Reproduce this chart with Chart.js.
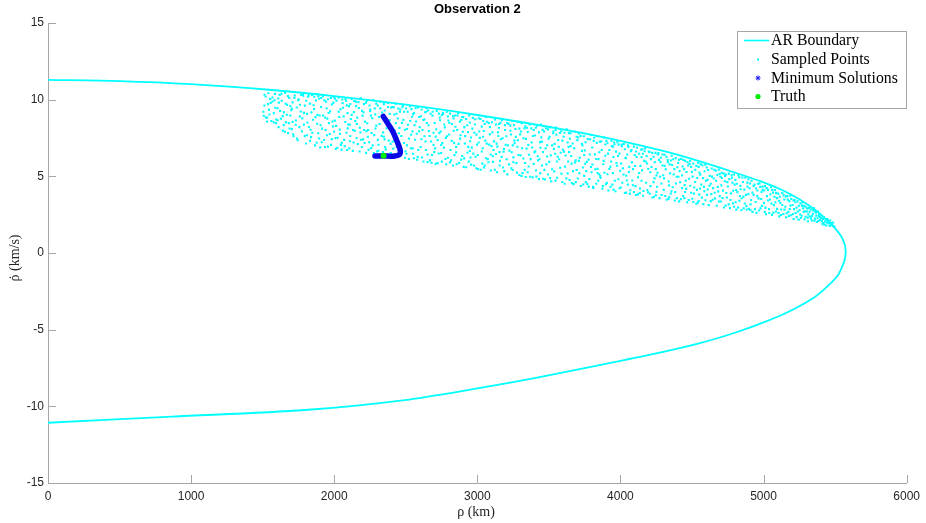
<!DOCTYPE html>
<html>
<head>
<meta charset="utf-8">
<script src="https://cdn.jsdelivr.net/npm/chart.js@4.4.1/dist/chart.umd.min.js"></script>
<style>
  html, body { margin: 0; padding: 0; background: #fff; }
</style>
</head>
<body>
<canvas id="chart" width="926" height="523"></canvas>
<script>
// tick labels
const xTicks = [0, 1000, 2000, 3000, 4000, 5000, 6000];
const yTicks = [-15, -10, -5, 0, 5, 10, 15];

// AR boundary, upper branch out to the nose then lower branch back
const boundaryRho = [0, 500, 1000, 1562, 2000, 2500, 3000, 3625, 4000, 4319, 4550, 4782, 5000, 5130, 5250, 5361, 5440, 5500, 5535, 5555, 5568, 5574,
  5568, 5555, 5521, 5450, 5361, 5200, 5014, 4800, 4549, 4200, 3854, 3400, 3000, 2493, 1796, 868, 0];
const boundaryRhoDot = [11.29, 11.21, 11.01, 10.63, 10.23, 9.67, 9.0, 8.02, 7.32, 6.61, 5.99, 5.30, 4.61, 4.11, 3.5, 2.80, 2.18, 1.61, 1.19, 0.86, 0.53, 0.1,
  -0.39, -0.77, -1.43, -2.15, -2.85, -3.72, -4.48, -5.2, -5.89, -6.65, -7.31, -8.16, -8.83, -9.59, -10.24, -10.67, -11.07];

// minimum solutions curve
const minRho = [2343, 2375, 2410, 2440, 2460, 2462, 2452, 2425, 2390, 2352, 2285];
const minRhoDot = [8.91, 8.44, 7.90, 7.25, 6.75, 6.52, 6.40, 6.33, 6.31, 6.33, 6.33];

// truth
const truthRho = [2345];
const truthRhoDot = [6.35];

// sampled points [rho, rhoDot]
const sampledPoints = [
[1512,9.62],[1520,10.21],[1531,8.83],[1544,9.35],[1553,10.05],[1561,8.61],[1569,9.88],[1578,9.12],[1586,10.38],[1594,8.47],[1508,8.95],[1537,9.71],
[1604,9.44],[1611,8.21],[1619,10.31],[1627,8.76],[1633,9.93],[1641,7.98],[1648,9.17],[1656,10.46],[1663,8.52],[1671,9.66],[1678,7.82],[1686,10.12],[1693,8.97],[1699,9.31],
[1703,8.08],[1709,9.82],[1716,7.61],[1724,10.27],[1731,8.64],[1738,9.49],[1745,7.35],[1752,10.02],[1759,8.91],[1766,9.23],[1774,7.93],[1781,10.36],[1788,8.37],[1795,9.61],
[1803,7.14],[1810,9.07],[1817,10.19],[1823,8.22],[1830,9.74],[1838,7.56],[1845,10.31],[1852,8.69],[1859,9.38],[1866,7.02],[1873,9.95],[1881,8.43],[1888,7.81],[1894,10.08],[1898,8.97],
[1902,6.88],[1908,9.52],[1915,8.11],[1921,10.22],[1929,7.37],[1936,8.84],[1943,9.86],[1950,7.68],[1957,10.03],[1963,8.47],[1971,9.24],[1978,7.05],[1985,9.69],[1992,8.26],[1997,10.17],[1999,7.91],
[2004,8.63],[2011,6.79],[2017,9.94],[2024,7.52],[2031,10.14],[2038,8.05],[2044,9.37],[2052,7.18],[2059,9.78],[2066,8.91],[2073,6.97],[2079,10.06],[2086,7.84],[2093,9.12],[2098,8.38],[2090,6.72],
[2103,9.58],[2109,7.29],[2116,8.74],[2122,10.04],[2130,6.66],[2137,9.19],[2144,7.97],[2151,9.87],[2158,8.42],[2165,7.11],[2172,9.46],[2179,8.18],[2186,10.09],[2193,6.91],[2198,8.96],[2112,7.63],
[2202,7.41],[2208,9.71],[2215,8.57],[2223,6.53],[2230,9.93],[2237,8.02],[2244,7.22],[2251,9.35],[2258,6.84],[2266,8.79],[2273,9.98],[2280,7.69],[2287,9.04],[2294,8.31],[2299,6.62],[2226,7.95],
[2304,9.62],[2310,7.06],[2317,8.41],[2324,9.87],[2331,6.42],[2338,8.93],[2346,7.58],[2353,9.29],[2360,6.76],[2367,8.14],[2374,9.78],[2381,7.33],[2388,8.66],[2395,6.51],[2399,9.48],[2342,7.87],
[2403,8.22],[2409,6.27],[2416,9.51],[2423,7.46],[2430,9.74],[2437,6.93],[2444,8.77],[2452,7.81],[2459,9.21],[2466,6.38],[2473,8.49],[2480,9.66],[2487,7.17],[2494,8.04],[2498,6.64],[2420,9.03],
[2502,9.42],[2508,7.02],[2515,8.36],[2522,6.13],[2530,9.57],[2537,7.71],[2544,8.89],[2551,6.47],[2558,9.13],[2565,7.39],[2572,8.58],[2579,6.08],[2586,9.49],[2593,7.94],[2598,8.21],[2548,6.82],
[2604,6.91],[2611,9.36],[2617,8.02],[2624,5.97],[2631,8.71],[2638,7.27],[2645,9.44],[2652,6.42],[2659,8.33],[2666,7.63],[2673,9.08],[2680,5.89],[2687,8.96],[2694,7.05],[2699,6.58],[2642,9.21],
[2702,8.48],[2709,5.81],[2716,9.27],[2723,7.36],[2730,6.49],[2737,8.84],[2744,7.92],[2752,5.96],[2759,9.14],[2766,6.87],[2773,8.19],[2780,7.51],[2787,9.22],[2794,6.21],[2798,8.63],[2748,7.04],
[2803,7.73],[2810,9.09],[2817,6.04],[2823,8.41],[2830,5.71],[2838,7.18],[2845,8.97],[2852,6.56],[2859,8.02],[2866,9.11],[2873,5.88],[2880,7.46],[2887,8.68],[2894,6.33],[2899,7.91],[2834,8.77],
[2902,8.86],[2908,6.17],[2915,7.62],[2922,5.59],[2929,8.33],[2936,6.92],[2943,8.97],[2950,7.29],[2957,5.76],[2965,8.11],[2972,6.48],[2979,7.84],[2986,8.72],[2993,5.53],[2998,7.07],[2947,6.66],
[3003,6.39],[3010,8.79],[3017,7.51],[3024,5.43],[3031,8.24],[3038,6.83],[3045,7.96],[3052,5.71],[3059,8.87],[3066,7.13],[3073,6.12],[3080,8.48],[3087,7.74],[3094,5.38],[3099,6.97],[3041,8.61],
[3102,8.53],[3109,5.94],[3116,7.28],[3123,8.71],[3130,6.46],[3137,5.27],[3144,7.87],[3151,8.17],[3158,6.01],[3165,7.42],[3172,8.66],[3179,5.58],[3186,6.79],[3193,8.34],[3198,7.06],[3155,6.58],
[3203,7.61],[3210,5.13],[3217,8.42],[3224,6.68],[3231,7.97],[3238,5.52],[3245,8.61],[3252,6.24],[3259,7.33],[3266,8.09],[3273,5.86],[3280,6.93],[3287,8.55],[3294,5.09],[3299,7.74],[3248,7.02],
[3302,6.37],[3309,8.46],[3316,5.21],[3323,7.48],[3330,8.13],[3337,4.96],[3344,6.81],[3352,7.89],[3359,5.64],[3366,8.38],[3373,6.12],[3380,7.21],[3387,4.93],[3394,8.02],[3399,6.56],[3334,5.87],
[3403,7.66],[3410,5.38],[3417,8.31],[3424,6.04],[3431,4.82],[3438,7.23],[3445,8.37],[3452,5.71],[3459,6.58],[3466,7.92],[3473,4.79],[3480,8.14],[3487,6.29],[3494,5.12],[3499,7.46],[3441,6.86],
[3502,5.94],[3509,8.21],[3516,4.68],[3523,7.02],[3530,7.81],[3537,5.32],[3544,6.47],[3551,8.18],[3558,4.91],[3565,7.37],[3572,6.11],[3579,5.56],[3586,7.94],[3593,4.63],[3598,6.73],[3547,8.02],
[3603,7.58],[3610,4.52],[3617,6.36],[3624,8.07],[3631,5.19],[3638,6.92],[3645,4.76],[3652,7.81],[3659,5.83],[3666,7.14],[3673,4.49],[3680,7.91],[3687,6.04],[3694,5.41],[3699,7.36],[3641,6.58],
[3702,4.86],[3709,7.79],[3716,6.21],[3723,4.37],[3730,7.12],[3737,5.58],[3744,7.61],[3751,6.69],[3758,4.62],[3765,5.94],[3772,7.43],[3779,4.33],[3786,6.42],[3793,7.71],[3798,5.27],[3747,5.03],
[3803,6.88],[3810,4.24],[3817,7.52],[3824,5.46],[3831,6.13],[3838,7.61],[3845,4.71],[3852,6.57],[3859,5.02],[3866,7.27],[3873,4.19],[3880,5.79],[3887,7.53],[3894,6.34],[3899,4.48],[3841,5.21],
[3902,7.31],[3909,5.14],[3916,4.08],[3923,6.72],[3930,5.63],[3937,7.32],[3944,4.46],[3951,6.26],[3958,7.08],[3965,4.03],[3972,5.87],[3979,7.23],[3986,4.81],[3993,6.49],[3998,5.36],[3947,6.93],
[4003,4.27],[4010,6.97],[4017,5.52],[4024,7.11],[4031,3.91],[4038,6.18],[4045,4.73],[4052,7.02],[4059,5.28],[4066,3.87],[4073,6.64],[4080,5.91],[4087,4.42],[4094,6.94],[4099,6.39],[4041,5.04],
[4102,5.67],[4109,3.78],[4116,6.86],[4123,4.94],[4130,6.47],[4137,4.21],[4144,6.73],[4151,5.39],[4158,3.73],[4165,6.02],[4172,6.82],[4179,4.58],[4186,5.84],[4193,3.96],[4198,6.61],[4147,6.26],
[4203,6.59],[4210,4.36],[4217,5.61],[4224,3.62],[4231,6.28],[4238,4.87],[4245,6.53],[4252,3.99],[4259,5.23],[4266,6.51],[4273,3.58],[4280,5.94],[4287,4.53],[4294,6.42],[4299,5.07],[4248,3.77],
[4302,4.12],[4309,6.41],[4316,5.46],[4323,3.47],[4330,6.07],[4337,4.68],[4344,5.78],[4351,3.86],[4358,6.34],[4365,4.29],[4372,5.13],[4379,3.42],[4386,6.19],[4393,4.97],[4398,5.59],[4341,3.64],
[4403,5.88],[4410,3.37],[4417,4.61],[4424,6.14],[4431,5.06],[4438,3.72],[4445,5.47],[4452,6.01],[4459,4.18],[4466,3.31],[4473,5.71],[4480,4.84],[4487,6.02],[4494,3.93],[4499,5.29],[4449,4.43],
[4502,3.54],[4509,5.83],[4516,4.27],[4523,5.42],[4530,3.21],[4537,4.89],[4544,5.87],[4551,3.81],[4558,5.11],[4565,4.46],[4572,5.72],[4579,3.19],[4586,4.03],[4593,5.76],[4598,4.72],[4547,3.39],
[4603,5.58],[4610,4.14],[4617,3.12],[4624,5.03],[4631,4.52],[4638,5.51],[4645,3.47],[4652,4.86],[4659,3.93],[4666,5.37],[4673,3.08],[4680,4.31],[4687,5.44],[4694,3.71],[4699,4.97],
[4702,3.36],[4709,5.23],[4716,4.07],[4723,2.97],[4730,4.68],[4737,5.11],[4744,3.62],[4751,4.34],[4758,5.18],[4765,2.93],[4772,3.89],[4779,4.91],[4786,3.24],[4793,5.12],[4798,4.46],
[4803,4.77],[4810,2.83],[4817,3.97],[4824,5.06],[4831,3.41],[4838,4.38],[4845,2.79],[4852,4.92],[4859,3.68],[4866,4.13],[4873,4.92],[4880,3.06],[4887,4.59],[4894,3.84],[4899,2.88],
[4902,4.22],[4909,3.17],[4916,4.71],[4923,2.68],[4930,3.79],[4937,4.46],[4944,3.33],[4951,2.62],[4958,4.08],[4965,3.56],[4972,4.54],[4979,2.91],[4986,3.98],[4993,4.33],
[5003,3.27],[5010,4.36],[5017,2.53],[5024,3.71],[5031,4.12],[5038,2.86],[5045,3.49],[5052,4.29],[5059,2.49],[5066,3.94],[5073,3.12],[5080,4.11],[5087,2.71],[5094,3.58],
[5103,3.87],[5110,2.39],[5117,3.26],[5124,2.84],[5131,3.91],[5138,2.54],[5145,3.49],[5152,3.02],[5159,2.33],[5166,3.71],[5173,2.68],[5180,3.38],[5187,3.74],[5194,2.46],
[5203,3.13],[5210,2.22],[5217,3.46],[5224,2.61],[5231,2.96],[5238,3.37],[5245,2.18],[5252,2.79],[5259,3.24],[5266,2.43],[5273,3.31],[5280,2.67],[5287,2.19],[5294,3.02],
[5303,2.71],[5310,2.07],[5317,2.93],[5324,2.38],[5331,2.84],[5338,2.12],[5345,2.56],[5352,2.92],[5359,2.24],[5366,2.63],[5373,2.02],[5380,2.71],[5387,2.41],[5394,2.16],
[5403,2.29],[5412,1.88],[5421,2.34],[5430,2.05],[5439,1.79],[5448,2.18],[5457,1.93],[5466,2.12],[5475,1.81],[5486,1.98],[5495,1.72],
[1547,9.03],[1513,10.32],[1588,9.47],[1531,8.58],[1569,10.14],[1505,9.21],[1594,8.71],[1556,9.79],[1522,8.84],[1577,8.52],[1540,10.42],[1583,9.96],
[1647,8.34],[1613,9.81],[1688,8.12],[1631,10.39],[1669,9.02],[1605,8.66],[1694,9.58],[1656,7.91],[1622,9.27],[1677,10.23],[1640,8.93],[1661,9.73],[1609,10.08],[1683,8.47],
[1747,9.96],[1713,7.74],[1788,9.14],[1731,8.36],[1769,10.31],[1705,9.41],[1794,7.62],[1756,8.21],[1722,10.12],[1777,8.78],[1740,7.47],[1761,9.67],[1709,8.55],[1783,10.26],
[1847,7.84],[1813,8.51],[1888,10.24],[1831,7.31],[1869,8.86],[1805,9.93],[1894,7.47],[1856,9.64],[1822,10.28],[1877,7.19],[1840,9.17],[1861,10.19],[1809,7.68],[1883,9.01],[1835,8.04],
[1947,9.42],[1913,7.22],[1988,8.58],[1931,9.95],[1969,7.76],[1905,8.33],[1994,9.81],[1956,6.94],[1922,8.97],[1977,10.11],[1940,8.02],[1961,9.13],[1909,10.11],[1983,7.43],[1935,6.91],[1952,8.76],
[2047,7.04],[2013,8.29],[2088,9.63],[2031,9.21],[2069,7.38],[2005,10.07],[2094,8.13],[2056,10.01],[2022,6.86],[2077,8.54],[2040,7.77],[2061,9.47],[2009,7.49],[2083,9.93],[2035,8.87],[2052,6.74],
[2147,8.61],[2113,9.72],[2188,7.39],[2131,8.02],[2169,9.84],[2105,6.83],[2194,9.27],[2156,7.48],[2122,9.01],[2177,6.62],[2140,9.91],[2161,8.83],[2109,8.37],[2183,7.86],[2135,7.21],[2152,9.58],
[2247,9.62],[2213,7.17],[2288,8.12],[2231,8.46],[2269,7.02],[2205,9.18],[2294,9.74],[2256,8.96],[2222,9.81],[2277,6.51],[2240,6.73],[2261,7.83],[2209,8.02],[2283,9.43],[2235,7.58],[2252,9.27],
[2347,9.71],[2313,8.87],[2388,9.07],[2331,7.64],[2369,6.39],[2305,7.38],[2394,7.12],[2356,6.91],[2322,9.43],[2377,9.52],[2340,6.58],[2361,8.53],[2309,6.67],[2383,8.26],[2335,9.16],[2352,7.41],
[2447,9.42],[2413,6.81],[2488,9.21],[2431,8.47],[2469,7.63],[2405,9.52],[2494,6.21],[2456,8.16],[2422,7.98],[2477,9.51],[2440,6.34],[2461,9.36],[2409,7.27],[2483,8.68],[2435,9.08],[2452,6.62],
[2547,7.93],[2513,9.21],[2588,6.72],[2531,8.61],[2569,9.44],[2505,6.47],[2594,8.87],[2556,6.18],[2522,7.46],[2577,7.78],[2540,9.38],[2561,8.34],[2509,8.09],[2583,6.27],[2535,6.83],[2552,9.06],
[2647,8.48],[2613,6.23],[2688,9.21],[2631,7.61],[2669,6.04],[2605,8.92],[2694,7.84],[2656,9.29],[2622,8.67],[2677,7.27],[2640,6.72],[2661,7.96],[2609,7.42],[2683,6.39],[2635,9.18],[2652,5.93],
[2747,6.52],[2713,8.07],[2788,7.61],[2731,9.09],[2769,8.38],[2705,6.82],[2794,8.91],[2756,7.17],[2722,5.86],[2777,6.13],[2740,8.66],[2761,9.07],[2709,7.59],[2783,5.79],[2735,7.82],[2752,8.99],
[2847,8.23],[2813,6.72],[2888,6.09],[2831,8.93],[2869,7.12],[2805,8.48],[2894,8.87],[2856,5.79],[2822,7.31],[2877,8.57],[2840,6.38],[2861,8.97],[2809,5.91],[2883,7.68],[2835,7.97],[2852,6.92],
[2947,8.51],[2913,7.14],[2988,6.28],[2931,6.54],[2969,8.81],[2905,5.62],[2994,7.72],[2956,7.53],[2922,8.73],[2977,5.71],[2940,5.96],[2961,6.87],[2909,8.21],[2983,8.38],[2935,7.88],[2952,6.23],
[3047,5.58],[3013,7.92],[3088,8.21],[3031,6.62],[3069,8.56],[3005,5.47],[3094,6.42],[3056,7.33],[3022,8.74],[3077,5.92],[3040,7.58],[3061,6.18],[3009,7.21],[3083,7.07],[3035,5.83],[3052,8.42],
[3147,7.63],[3113,6.72],[3188,5.34],[3131,8.38],[3169,6.27],[3105,7.87],[3194,8.02],[3156,5.71],[3122,5.43],[3177,7.48],[3140,6.94],[3161,8.49],[3109,6.31],[3183,6.61],[3135,7.13],[3152,8.41],
[3247,5.41],[3213,7.02],[3288,6.39],[3231,8.31],[3269,7.57],[3205,6.11],[3294,8.11],[3256,8.34],[3222,5.78],[3277,5.24],[3240,6.57],[3261,7.16],[3209,8.48],[3283,7.36],[3235,7.73],[3252,5.92],
[3347,8.17],[3313,6.83],[3388,7.63],[3331,5.42],[3369,4.97],[3305,7.92],[3394,5.81],[3356,7.04],[3322,6.16],[3377,8.13],[3340,7.44],[3361,6.41],[3309,5.02],[3383,6.88],[3335,8.26],[3352,5.27],
[3447,7.54],[3413,4.98],[3488,7.03],[3431,7.87],[3469,5.42],[3405,6.63],[3494,8.06],[3456,8.03],[3422,6.31],[3477,6.82],[3440,5.21],[3461,4.84],[3409,8.17],[3483,5.78],[3435,6.11],[3452,7.26],
[3547,4.72],[3513,6.37],[3588,5.18],[3531,7.92],[3569,6.92],[3505,7.58],[3594,7.33],[3556,5.97],[3522,5.46],[3577,7.83],[3540,7.12],[3561,6.28],[3509,4.88],[3583,6.54],[3535,6.79],[3552,7.71],
[3647,7.46],[3613,5.63],[3688,4.62],[3631,7.21],[3669,5.34],[3605,6.61],[3694,7.58],[3656,6.33],[3622,4.87],[3677,6.82],[3640,7.82],[3661,4.56],[3609,7.84],[3683,5.91],[3635,5.97],[3652,6.97],
[3747,6.39],[3713,5.21],[3788,7.42],[3731,6.66],[3769,4.51],[3705,7.53],[3794,5.61],[3756,7.22],[3722,7.64],[3777,6.09],[3740,4.47],[3761,5.34],[3709,6.01],[3783,4.82],[3735,7.01],[3752,5.82]
,[3847,6.12],[3813,7.31],[3888,5.23],[3831,4.52],[3869,6.72],[3805,5.77],[3894,7.08],[3856,7.26],[3822,6.43],[3877,4.36],[3840,5.49],[3861,4.89],[3809,4.31],[3883,6.01],[3835,7.18],[3852,5.13],
[3947,5.21],[3913,6.48],[3988,7.07],[3931,4.32],[3969,6.61],[3905,4.57],[3994,4.22],[3956,7.21],[3922,5.49],[3977,5.69],[3940,6.97],[3961,4.71],[3909,7.16],[3983,6.33],[3935,5.97],[3952,4.13],
[4047,6.42],[4013,4.58],[4088,5.47],[4031,6.77],[4069,4.09],[4005,5.83],[4094,3.97],[4056,6.91],[4022,5.12],[4077,6.71],[4040,3.94],[4061,5.62],[4009,7.07],[4083,4.73],[4035,6.21],[4052,4.46],
[4147,4.71],[4113,6.27],[4188,4.11],[4131,5.21],[4169,6.64],[4105,4.36],[4194,5.48],[4156,6.47],[4122,3.82],[4177,5.97],[4140,5.68],[4161,4.04],[4109,6.62],[4183,6.32],[4135,3.91],[4152,6.77],
[4247,5.47],[4213,6.12],[4288,3.78],[4231,4.62],[4269,6.07],[4205,3.86],[4294,5.71],[4256,4.32],[4222,6.53],[4277,4.97],[4240,5.92],[4261,6.42],[4209,5.27],[4283,6.21],[4235,3.67],[4252,5.06],
[4347,5.19],[4313,3.72],[4388,4.53],[4331,5.93],[4369,6.11],[4305,4.87],[4394,3.58],[4356,4.02],[4322,6.28],[4377,5.47],[4340,4.41],[4361,5.74],[4309,5.68],[4383,3.97],[4335,3.53],[4352,6.03],
[4447,3.58],[4413,5.34],[4488,4.39],[4431,4.23],[4469,5.92],[4405,4.97],[4494,5.62],[4456,4.71],[4422,3.51],[4477,3.46],[4440,6.07],[4461,5.28],[4409,6.08],[4483,5.81],[4435,5.64],[4452,3.98],
[4547,5.62],[4513,3.87],[4588,5.33],[4531,5.68],[4569,3.61],[4505,4.98],[4594,3.44],[4556,4.21],[4522,4.63],[4577,4.88],[4540,3.28],[4561,5.79],[4509,3.33],[4583,4.31],[4535,4.12],[4552,5.24],
[4647,4.23],[4613,5.41],[4688,3.36],[4631,3.38],[4669,4.71],[4605,3.79],[4694,5.16],[4656,5.43],[4622,4.39],[4677,5.09],[4640,4.98],[4661,3.56],[4609,4.77],[4683,4.02],[4635,3.84],
[4747,4.62],[4713,3.58],[4788,4.06],[4731,5.02],[4769,3.46],[4705,4.41],[4794,3.02],[4756,3.17],[4722,5.18],[4777,5.06],[4740,3.91],[4761,4.82],[4709,4.89],[4783,4.58],[4735,3.09],
[4847,3.57],[4813,4.52],[4888,4.32],[4831,4.94],[4869,3.23],[4805,3.31],[4894,4.81],[4856,4.63],[4822,2.97],[4877,3.79],[4840,4.16],[4861,2.91],[4809,4.11],[4883,2.84],[4835,3.72],
[4947,4.21],[4913,3.46],[4988,3.07],[4931,4.38],[4969,2.77],[4905,4.53],[4994,4.12],[4956,3.71],[4922,3.94],[4977,4.31],[4940,2.86],[4961,4.52],[4909,2.79],[4983,3.52],
[5047,3.83],[5013,2.96],[5088,3.92],[5031,3.42],[5069,2.63],[5005,4.08],[5094,2.88],[5056,3.22],[5022,4.23],[5077,3.66],[5040,2.61],[5061,4.12],[5009,2.68],[5083,3.31],
[5147,2.83],[5113,3.67],[5188,3.09],[5131,3.13],[5169,3.48],[5105,2.62],[5194,3.52],[5156,3.69],[5122,2.48],[5177,2.42],[5140,3.76],[5161,2.59],[5109,3.41],[5183,2.87],
[5247,3.08],[5213,2.86],[5288,2.72],[5231,2.34],[5269,3.09],[5205,2.54],[5294,2.36],[5256,2.51],[5222,3.31],[5277,2.91],[5240,2.71],[5261,2.28],[5209,3.42],[5283,3.08],
[5347,2.78],[5313,2.52],[5388,2.53],[5331,2.26],[5369,2.44],[5305,2.91],[5394,2.37],[5356,2.11],[5322,2.69],[5377,2.27],[5340,2.42],[5361,2.72],[5309,2.31],[5383,2.09],
[5407,2.08],[5416,2.21],[5426,1.84],[5435,2.17],[5444,1.97],[5453,2.03],[5462,1.77],[5471,1.96],[5480,1.82],[5491,1.73],[5418,1.95],[5444,2.21]
];

const axisColor = '#a6a6a6';
const textColor = '#262626';

const toXY = (xs, ys) => xs.map((x, i) => ({ x: x, y: ys[i] }));

// title, axis labels, inward ticks and the legend box
const decorPlugin = {
  id: 'decor',
  afterDraw(chart) {
    const ctx = chart.ctx;
    const area = chart.chartArea;
    const xs = chart.scales.x, ys = chart.scales.y;
    ctx.save();

    // inward ticks
    ctx.strokeStyle = axisColor;
    ctx.lineWidth = 1;
    ctx.beginPath();
    xTicks.forEach(v => {
      const px = Math.round(xs.getPixelForValue(v)) + 0.5;
      ctx.moveTo(px, area.bottom);
      ctx.lineTo(px, area.bottom - 8);
    });
    yTicks.forEach(v => {
      const py = Math.round(ys.getPixelForValue(v)) + 0.5;
      ctx.moveTo(area.left, py);
      ctx.lineTo(area.left + 8, py);
    });
    ctx.stroke();

    // title
    ctx.fillStyle = '#000';
    ctx.font = 'bold 13px "Liberation Sans", Arial, sans-serif';
    ctx.textAlign = 'center';
    ctx.textBaseline = 'middle';
    ctx.fillText('Observation 2', (area.left + area.right) / 2, 9);

    // axis labels
    ctx.fillStyle = textColor;
    ctx.font = '14px "Liberation Serif", serif';
    ctx.fillText('\u03C1 (km)', 476, 512);

    // y label: rho with a dot above it
    ctx.save();
    ctx.translate(15, 258);
    ctx.rotate(-Math.PI / 2);
    const yLabel = '\u03C1 (km/s)';
    const w = ctx.measureText(yLabel).width;
    const wRho = ctx.measureText('\u03C1').width;
    ctx.textAlign = 'left';
    ctx.fillText(yLabel, -w / 2, 0);
    ctx.textAlign = 'center';
    ctx.fillText('\u02D9', -w / 2 + wRho / 2 + 0.5, 0);
    ctx.restore();

    // legend
    const lx = 737.5, ly = 31.5, lw = 169, lh = 77;
    ctx.fillStyle = '#fff';
    ctx.fillRect(lx, ly, lw, lh);
    ctx.strokeStyle = axisColor;
    ctx.strokeRect(lx, ly, lw, lh);

    const rows = [40.5, 59.5, 78, 96.5];
    // AR boundary line
    ctx.strokeStyle = '#00ffff';
    ctx.lineWidth = 1.6;
    ctx.beginPath();
    ctx.moveTo(744, rows[0]);
    ctx.lineTo(769, rows[0]);
    ctx.stroke();
    // sampled point
    ctx.fillStyle = '#00ffff';
    ctx.fillRect(757, rows[1] - 1, 2, 2);
    // minimum solution star
    ctx.strokeStyle = '#1a1aff';
    ctx.lineWidth = 1;
    ctx.beginPath();
    for (let k = 0; k < 4; k++) {
      const a = k * Math.PI / 4;
      ctx.moveTo(758 - 2.5 * Math.cos(a), rows[2] - 2.5 * Math.sin(a));
      ctx.lineTo(758 + 2.5 * Math.cos(a), rows[2] + 2.5 * Math.sin(a));
    }
    ctx.stroke();
    // truth dot
    ctx.fillStyle = '#00ee00';
    ctx.beginPath();
    ctx.arc(758, rows[3], 2.6, 0, Math.PI * 2);
    ctx.fill();

    ctx.fillStyle = '#000';
    ctx.font = '15.8px "Liberation Serif", serif';
    ctx.textAlign = 'left';
    ctx.textBaseline = 'middle';
    const names = ['AR Boundary', 'Sampled Points', 'Minimum Solutions', 'Truth'];
    names.forEach((n, i) => ctx.fillText(n, 771, rows[i] + 0.5));

    ctx.restore();
  }
};

const ctx = document.getElementById('chart').getContext('2d');
new Chart(ctx, {
  type: 'scatter',
  data: {
    datasets: [
      {
        label: 'Truth',
        data: toXY(truthRho, truthRhoDot),
        backgroundColor: '#00ee00',
        borderWidth: 0,
        pointRadius: 3
      },
      {
        label: 'Minimum Solutions',
        data: toXY(minRho, minRhoDot),
        showLine: true,
        borderColor: '#0a0ae6',
        borderWidth: 5.5,
        borderCapStyle: 'round',
        borderJoinStyle: 'round',
        tension: 0.4,
        pointRadius: 0
      },
      {
        label: 'Sampled Points',
        data: sampledPoints.map(p => ({ x: p[0], y: p[1] })),
        backgroundColor: '#00ffff',
        borderWidth: 0,
        pointStyle: 'rect',
        pointRadius: 1.5
      },
      {
        label: 'AR Boundary',
        data: toXY(boundaryRho, boundaryRhoDot),
        showLine: true,
        borderColor: '#00ffff',
        borderWidth: 1.8,
        tension: 0.3,
        pointRadius: 0
      }
    ]
  },
  options: {
    responsive: false,
    devicePixelRatio: 1,
    animation: false,
    events: [],
    layout: { autoPadding: false, padding: { left: 0, top: 23, right: 14, bottom: 0 } },
    plugins: {
      legend: { display: false },
      title: { display: false },
      tooltip: { enabled: false }
    },
    scales: {
      x: {
        type: 'linear',
        min: 0,
        max: 6000,
        afterBuildTicks: s => { s.ticks = xTicks.map(v => ({ value: v })); },
        afterFit: s => { s.height = 40; },
        ticks: {
          callback: v => String(v),
          color: textColor,
          font: { family: '"Liberation Sans", Arial, sans-serif', size: 12 },
          padding: 6,
          maxRotation: 0
        },
        grid: { display: false, drawTicks: false },
        border: { display: true, color: axisColor, width: 1 }
      },
      y: {
        type: 'linear',
        min: -15,
        max: 15,
        afterBuildTicks: s => { s.ticks = yTicks.map(v => ({ value: v })); },
        afterFit: s => { s.width = 48; },
        ticks: {
          callback: v => String(v),
          color: textColor,
          font: { family: '"Liberation Sans", Arial, sans-serif', size: 12 },
          padding: 4
        },
        grid: { display: false, drawTicks: false },
        border: { display: true, color: axisColor, width: 1 }
      }
    }
  },
  plugins: [decorPlugin]
});
</script>
</body>
</html>
